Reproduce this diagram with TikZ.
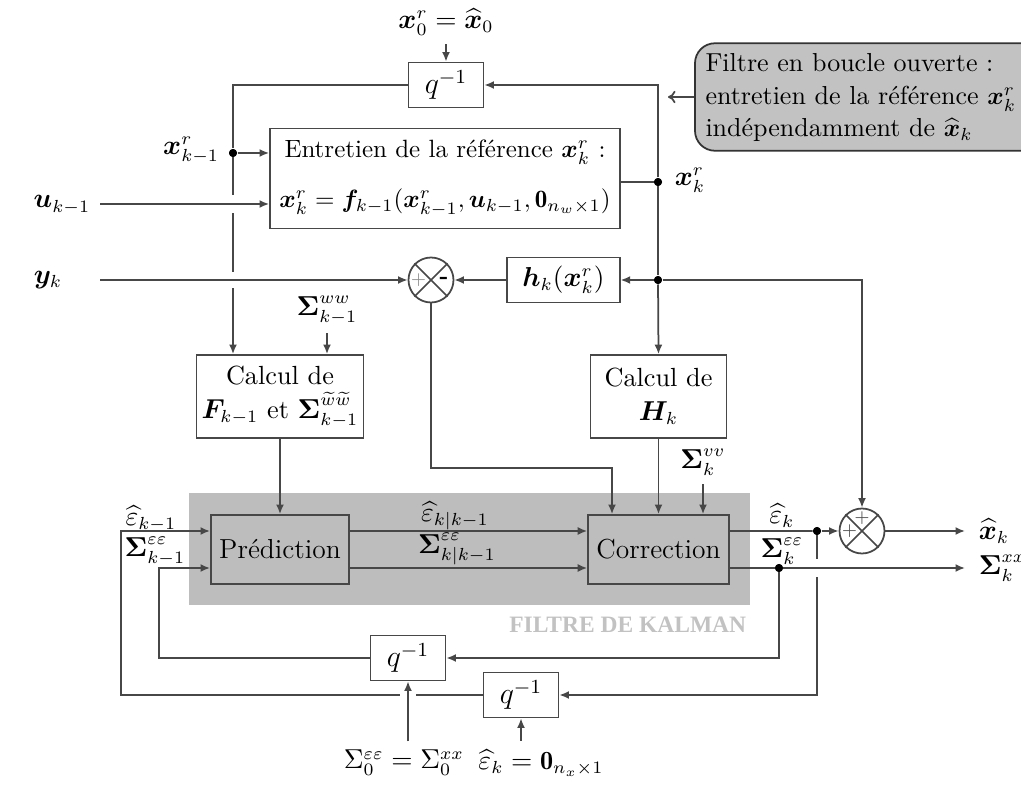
\documentclass[tikz,border=0pt]{standalone}
\usepackage{amsmath,bm}
\usepackage{fontspec}
\newfontfamily\kalfont{Liberation Serif}
\usetikzlibrary{arrows.meta,calc}
\tikzset{
  ln/.style={draw=black!72, line width=0.7pt},
  arr/.style={ln, -{Latex[length=3.8pt,width=3.2pt]}},
  box/.style={draw=black!72, line width=0.7pt, fill=white, inner sep=2pt, align=center},
  qbox/.style={box, minimum width=30pt, minimum height=18pt, font=\large},
  kbox/.style={draw=black!72, line width=0.7pt, fill=black!26, minimum width=54.8pt, minimum height=27.6pt, font=\fontsize{11}{13}\selectfont},
  jdot/.style={circle, fill=black, inner sep=0pt, minimum size=3.2pt},
  sumc/.style={circle, draw=black!72, line width=0.7pt, fill=white, minimum size=18pt, inner sep=0pt},
  gapw/.style={draw=white, line width=2.4pt},
}
\begin{document}
\begin{tikzpicture}[x=0.4pt,y=-0.4pt,font=\fontsize{10.5}{12.6}\selectfont]
\useasboundingbox (0,0) rectangle (1021,785);
\clip (0,0) rectangle (1021,785);

% Kalman filter background
\fill[black!26] (189,493) rectangle (750,605);
\node[anchor=east, text=black!24, font=\kalfont\bfseries\fontsize{9.4}{11}\selectfont] (kal) at (755,625) {FILTRE DE KALMAN};

% annotation
\node[draw=black!80, line width=0.7pt, fill=black!24, rounded corners=8pt, minimum width=140pt, minimum height=43pt] (ann) at (870,97) {};
\node[anchor=west, align=left, inner sep=0pt, font=\fontsize{10.4}{13}\selectfont] (anntext) at (705,98) {Filtre en boucle ouverte :\\ entretien de la référence $\bm{x}^r_k$\\ indépendamment de $\widehat{\bm{x}}_k$};
\coordinate (annend) at (668,97);
\draw[ln, -{To[length=3pt,width=5pt]}] (ann.west) -- (annend);

% top part
\node (lx0) at (446,22) {$\bm{x}^r_0=\widehat{\bm{x}}_0$};
\node[qbox] (qtop) at (446,85) {$q^{-1}$};
\node[box, minimum width=140pt, minimum height=40pt, font=\fontsize{10}{12}\selectfont] (entr) at (445,178.5)
  {Entretien de la référence $\bm{x}^r_k$ :\\[8pt] $\bm{x}^r_k=\bm{f}_{k-1}(\bm{x}^r_{k-1},\bm{u}_{k-1},\mathbf{0}_{n_w\times 1})$};
\node[jdot] (jL) at (233,153) {};
\node[anchor=east] (lxk1) at (228,150) {$\bm{x}^r_{k-1}$};
\node[jdot] (jR) at (658,182) {};
\node[anchor=west] (lxk) at (666,180) {$\bm{x}^r_k$};
\node[jdot] (jH) at (658,280) {};
\coordinate (tl) at (233,85);
\coordinate (tr) at (658,85);

\node (lu) at (62,205) {$\bm{u}_{k-1}$};
\coordinate (us) at (100,204);
\node (ly) at (48,280) {$\bm{y}_k$};
\coordinate (ys) at (100,280);

\node[sumc] (s1) at (431,280) {};
\draw[ln] (s1.45) -- (s1.225) (s1.135) -- (s1.315);
\node[font=\scriptsize, text=black!45, inner sep=0pt] (s1p) at ([xshift=-5pt]s1.center) {$+$};
\node[font=\small\bfseries, inner sep=0pt] (s1m) at ([xshift=5.2pt]s1.center) {-};
\node[box, minimum width=45pt, minimum height=18pt] (hbox) at (563.5,280) {$\bm{h}_k(\bm{x}^r_k)$};

\node (lSww) at (327,310) {$\bm{\Sigma}^{ww}_{k-1}$};
\node[box, minimum width=66.8pt, minimum height=33.2pt] (calcF) at (280,396.5)
  {Calcul de\\[1pt] $\bm{F}_{k-1}$ et $\bm{\Sigma}^{\widetilde{w}\widetilde{w}}_{k-1}$};
\node[box, minimum width=54.4pt, minimum height=33.2pt] (calcH) at (658.5,396.5)
  {Calcul de\\[1pt] $\bm{H}_k$};

% Kalman boxes
\node[kbox] (pred) at (280,549.5) {Prédiction};
\node[kbox] (corr) at (658.5,549.5) {Correction};
\node (lSvv) at (703,462) {$\bm{\Sigma}^{vv}_k$};

\coordinate (pU) at ([yshift=7.4pt]pred.west);
\coordinate (pL) at ([yshift=-7.4pt]pred.west);
\coordinate (pUe) at ([yshift=7.4pt]pred.east);
\coordinate (pLe) at ([yshift=-7.4pt]pred.east);
\coordinate (cU) at ([yshift=7.4pt]corr.west);
\coordinate (cL) at ([yshift=-7.4pt]corr.west);
\coordinate (cUe) at ([yshift=7.4pt]corr.east);
\coordinate (cLe) at ([yshift=-7.4pt]corr.east);

\node (leps1) at (455,516) {$\widehat{\varepsilon}_{k|k-1}$};
\node (lS1) at (457,549) {$\bm{\Sigma}^{\varepsilon\varepsilon}_{k|k-1}$};
\node (leps0) at (151,519) {$\widehat{\varepsilon}_{k-1}$};
\node (lS0) at (155,551) {$\bm{\Sigma}^{\varepsilon\varepsilon}_{k-1}$};
\node (leK) at (782,516) {$\widehat{\varepsilon}_k$};
\node (lSK) at (782,551) {$\bm{\Sigma}^{\varepsilon\varepsilon}_k$};

\node[jdot] (de) at (817,531) {};
\node[jdot] (dS) at (779,568) {};
\node[sumc] (s2) at (862,531) {};
\draw[ln] (s2.45) -- (s2.225) (s2.135) -- (s2.315);
\node[font=\scriptsize, text=black!70, inner sep=0pt] (s2p) at ([xshift=-5pt]s2.center) {$+$};
\node[font=\scriptsize, text=black!70, inner sep=0pt] (s2q) at ([yshift=5pt]s2.center) {$+$};
\coordinate (oX) at (965,531);
\coordinate (oS) at (965,568);
\node[anchor=west] (lxh) at (970,531) {$\widehat{\bm{x}}_k$};
\node[anchor=west] (lSxx) at (970,568) {$\bm{\Sigma}^{xx}_k$};

% bottom delays
\node[qbox] (q1) at (408,658) {$q^{-1}$};
\node[qbox] (q2) at (521,695) {$q^{-1}$};
\coordinate (l1) at (159,658);
\coordinate (l2) at (121,695);
\node (i1) at (404,763) {$\Sigma^{\varepsilon\varepsilon}_0=\Sigma^{xx}_0$};
\node (i2) at (541,763) {$\widehat{\varepsilon}_k=\mathbf{0}_{n_x\times 1}$};

% ---------- connectors ----------
\draw[arr] (lx0) -- (qtop.north);
\draw[ln] (qtop.west) -- (tl) -- (jL);
\draw[arr] (jL) -- (jL |- calcF.north);
\draw[arr] (jL) -- (entr.west |- jL);
\draw[ln] (entr.east |- jR) -- (jR);
\draw[arr] (jR) -- (tr) -- (qtop.east);
\draw[ln] (jR) -- (jH);
\draw[arr] (jH) -- (calcH.north);
\draw[arr] (jH) -- (hbox.east);
\draw[arr] (hbox.west) -- (s1.east);
\coordinate (tsum2) at (862,280);
\draw[arr] (jH) -- (tsum2) -- (s2.north);

% crossings on the left vertical
\coordinate (x1) at (jL |- us);
\coordinate (x2) at (jL |- ys);
\draw[gapw] (x1) +(0,-9) -- +(0,9);
\draw[gapw] (x2) +(0,-8) -- +(0,8);
\draw[arr] (us) -- (entr.west |- us);
\draw[arr] (ys) -- (s1.west);

\draw[arr] (lSww) -- (lSww |- calcF.north);
\draw[arr] (calcF.south) -- (pred.north);
\draw[arr] (calcH.south) -- (corr.north);
\coordinate (b1) at (431,468);
\coordinate (b2) at (612,468);
\draw[arr] (s1.south) -- (b1) -- (b2) -- (b2 |- corr.north);
\draw[arr] (lSvv) -- (lSvv |- corr.north);

\draw[arr] (pUe) -- (cU);
\draw[arr] (pLe) -- (cL);
\draw[ln] (cUe) -- (de);
\draw[arr] (de) -- (s2.west);
\draw[arr] (s2.east) -- (oX);

\draw[arr] (dS) -- (dS |- q1.east) -- (q1.east);
\draw[arr] (q1.west) -- (l1) -- (l1 |- pL) -- (pL);
\draw[arr] (de) -- (de |- q2.east) -- (q2.east);
\draw[arr] (q2.west) -- (l2) -- (l2 |- pU) -- (pU);

% crossing: Sigma output line over the vertical from de
\coordinate (x3) at (de |- dS);
\draw[gapw] (x3) +(0,-9) -- +(0,9);
\draw[arr] (cLe) -- (oS);

% crossing: vertical init arrow over the lower feedback line
\coordinate (x4) at (q1.south |- l2);
\draw[gapw] (x4) +(-8,0) -- +(8,0);
\draw[arr] (i1.north -| q1.south) -- (q1.south);
\draw[arr] (i2.north -| q2.south) -- (q2.south);

% junction dots on top
\foreach \d in {jL,jR,jH,de,dS} \fill (\d) circle (1.6pt);
\end{tikzpicture}
\end{document}
